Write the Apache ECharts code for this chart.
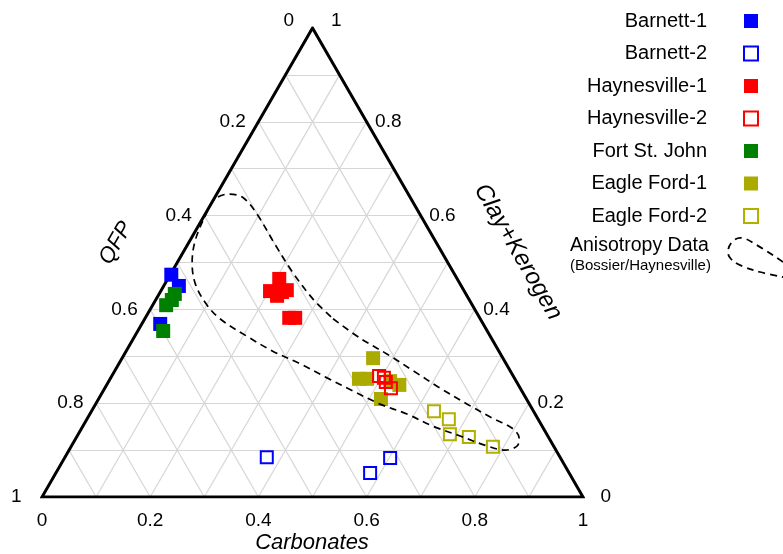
<!DOCTYPE html>
<html lang="en">
<head>
<meta charset="utf-8">
<script src="https://cdn.jsdelivr.net/npm/echarts@6/dist/echarts.min.js"></script>
<style>
  html, body { margin: 0; padding: 0; background: #fff; }
  #main { width: 783px; height: 554px; }
</style>
</head>
<body>
<div id="main"></div>
<script>
// every point is [carbonates, clay+kerogen]; QFP is what is left (1 - both)
var barnett1 = [[0.002, 0.474], [0.028, 0.450], [0.034, 0.369]];
var barnett2 = [[0.373, 0.085], [0.581, 0.051], [0.602, 0.083]];
var haynesville1 = [[0.206, 0.465], [0.202, 0.439], [0.225, 0.437], [0.220, 0.429],
                    [0.232, 0.441], [0.266, 0.382], [0.277, 0.382]];
var haynesville2 = [[0.494, 0.258], [0.505, 0.254], [0.513, 0.245], [0.529, 0.232]];
var fortStJohn = [[0.029, 0.433], [0.030, 0.420], [0.025, 0.409], [0.047, 0.354]];
var eagleFord1 = [[0.464, 0.296], [0.460, 0.252], [0.475, 0.252], [0.541, 0.239],
                  [0.522, 0.209], [0.520, 0.247]];
var eagleFord2 = [[0.633, 0.183], [0.669, 0.166], [0.687, 0.134], [0.725, 0.128], [0.780, 0.107]];

// outline of the anisotropy data (Bossier/Haynesville)
var anisotropyOutline = [
  [0.348, 0.380], [0.418, 0.339], [0.485, 0.305], [0.552, 0.269], [0.620, 0.232],
  [0.687, 0.198], [0.749, 0.168], [0.795, 0.147], [0.819, 0.126], [0.824, 0.109],
  [0.806, 0.100], [0.768, 0.109], [0.708, 0.130], [0.647, 0.151], [0.586, 0.177],
  [0.526, 0.198], [0.462, 0.226], [0.400, 0.254], [0.335, 0.284], [0.271, 0.311],
  [0.207, 0.343], [0.139, 0.380], [0.095, 0.414], [0.055, 0.456], [0.028, 0.499],
  [0.010, 0.546], [0.002, 0.599], [0.002, 0.635], [0.023, 0.646], [0.053, 0.638],
  [0.096, 0.603], [0.161, 0.539], [0.225, 0.478], [0.290, 0.422], [0.348, 0.380]
];

var tickValues = [0, 0.2, 0.4, 0.6, 0.8, 1];
var tickLabels = ['0', '0.2', '0.4', '0.6', '0.8', '1'];

var FONT = 'Arial, "Liberation Sans", sans-serif';
var H = Math.sqrt(3) / 2;

function toXY(p) {
  return [p[0] + p[1] / 2, p[1] * H];
}

// light grid every 0.1 for the three components
var gridSegs = [];
for (var i = 1; i < 10; i++) {
  var t = i / 10;
  gridSegs.push({ coords: [toXY([0, t]), toXY([1 - t, t])] });
  gridSegs.push({ coords: [toXY([t, 0]), toXY([t, 1 - t])] });
  gridSegs.push({ coords: [toXY([1 - t, 0]), toXY([0, 1 - t])] });
}

function tickSeries(points, position, distance, ends) {
  return {
    type: 'scatter',
    symbolSize: 1,
    silent: true,
    itemStyle: { color: 'rgba(0,0,0,0)', opacity: 1 },
    label: {
      show: true, position: position, distance: distance, formatter: '{b}',
      fontSize: 19, fontFamily: FONT, color: '#000'
    },
    data: points.map(function (p, i) {
      var item = { name: tickLabels[i], value: toXY(p) };
      if (ends && ends[i]) item.label = ends[i];
      return item;
    }),
    z: 2
  };
}

function markSeries(name, data, color, hollow) {
  return {
    name: name,
    type: 'scatter',
    symbol: 'rect',
    symbolSize: hollow ? 12 : 14,
    itemStyle: hollow
      ? { color: 'rgba(0,0,0,0)', borderColor: color, borderWidth: 2, opacity: 1 }
      : { color: color, opacity: 1 },
    data: data.map(toXY),
    z: 4
  };
}

var myChart = echarts.init(document.getElementById('main'));
myChart.setOption({
  animation: false,
  grid: { left: 42, top: 28, width: 541, height: 469 },
  xAxis: { type: 'value', min: 0, max: 1, show: false },
  yAxis: { type: 'value', min: 0, max: H, show: false },
  legend: {
    data: ['Barnett-1', 'Barnett-2', 'Haynesville-1', 'Haynesville-2',
           'Fort St. John', 'Eagle Ford-1', 'Eagle Ford-2'],
    orient: 'vertical',
    align: 'right',
    right: 24,
    top: 11,
    padding: 0,
    itemWidth: 14,
    itemHeight: 14,
    itemGap: 12.5,
    selectedMode: false,
    textStyle: { fontSize: 20, lineHeight: 20, fontFamily: FONT, color: '#000', padding: [0, 32, 0, 0] }
  },
  graphic: [
    { type: 'text', x: 312, y: 543, style: { text: 'Carbonates', fontSize: 22, fontStyle: 'italic', fontFamily: FONT, fill: '#000', align: 'center', verticalAlign: 'middle' } },
    { type: 'text', x: 116, y: 243, rotation: Math.PI / 3, style: { text: 'QFP', fontSize: 22, fontStyle: 'italic', fontFamily: FONT, fill: '#000', align: 'center', verticalAlign: 'middle' } },
    { type: 'text', x: 518, y: 252, rotation: -Math.PI / 3, style: { text: 'Clay+Kerogen', fontSize: 24, fontStyle: 'italic', fontFamily: FONT, fill: '#000', align: 'center', verticalAlign: 'middle' } },
    { type: 'text', x: 570, y: 246, style: { text: 'Anisotropy Data', fontSize: 19.5, fontFamily: FONT, fill: '#000', verticalAlign: 'middle' } },
    { type: 'text', x: 570, y: 266, style: { text: '(Bossier/Haynesville)', fontSize: 15, fontFamily: FONT, fill: '#000', verticalAlign: 'middle' } },
    { type: 'polyline', shape: { points: [[783, 262], [755, 244], [742, 238], [733, 241], [728, 251], [731, 259], [742, 266], [760, 272], [783, 277]], smooth: 0.4 },
      style: { stroke: '#000', fill: null, lineWidth: 1.8, lineDash: [7, 5] } }
  ],
  series: [
    {
      type: 'lines', coordinateSystem: 'cartesian2d', silent: true,
      lineStyle: { color: '#d6d6d6', width: 1.2, opacity: 1 },
      data: gridSegs, z: 1
    },
    {
      type: 'line', silent: true, symbol: 'none',
      lineStyle: { color: '#000', width: 3, join: 'miter' },
      data: [[0, 0], [1, 0], [0.5, H], [0, 0], [1, 0]], z: 3
    },
    tickSeries(tickValues.map(function (v) { return [v, 0]; }), 'bottom', 14),
    tickSeries(tickValues.map(function (v) { return [0, 1 - v]; }), 'left', 12,
      [{ distance: 18, offset: [0, -7] }, null, null, null, null, { distance: 20 }]),
    tickSeries(tickValues.map(function (v) { return [1 - v, v]; }), 'right', 8,
      [{ distance: 17 }, null, null, null, null, { distance: 18, offset: [0, -7] }]),
    markSeries('Barnett-1', barnett1, '#0000ff', false),
    markSeries('Barnett-2', barnett2, '#0000ff', true),
    markSeries('Haynesville-1', haynesville1, '#ff0000', false),
    markSeries('Fort St. John', fortStJohn, '#008000', false),
    markSeries('Eagle Ford-1', eagleFord1, '#aaaa00', false),
    markSeries('Haynesville-2', haynesville2, '#ff0000', true),
    markSeries('Eagle Ford-2', eagleFord2, '#b0b000', true),
    {
      type: 'line', silent: true, symbol: 'none', smooth: 0.35,
      lineStyle: { color: '#000', width: 1.7, type: [7, 5] },
      data: anisotropyOutline.map(toXY), z: 5
    }
  ]
});
</script>
</body>
</html>
